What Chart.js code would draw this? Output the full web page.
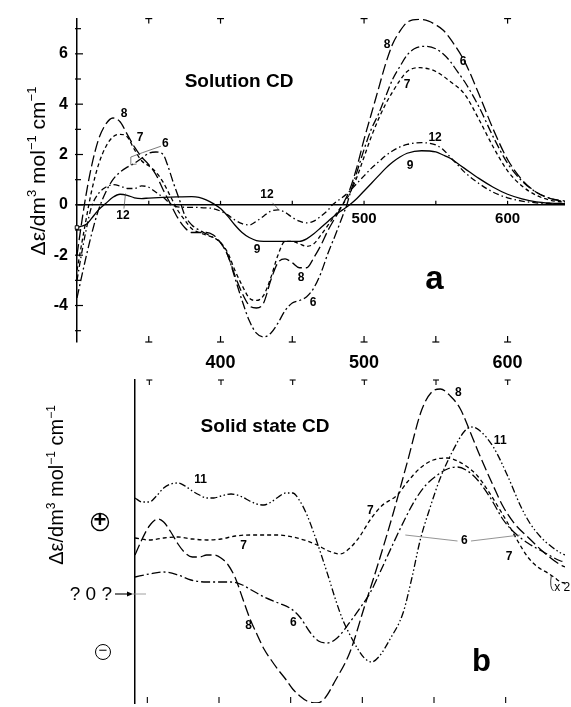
<!DOCTYPE html>
<html><head><meta charset="utf-8">
<script src="https://cdn.jsdelivr.net/npm/chart.js@4.4.1/dist/chart.umd.min.js"></script>
<style>
html,body{margin:0;padding:0;background:#fff;}
#wrap{position:relative;width:571px;height:707px;overflow:hidden;}
canvas{position:absolute;left:0;top:0;}
</style>
</head><body>
<div id="wrap"><canvas id="top" width="571" height="707"></canvas><canvas id="bot" width="571" height="707"></canvas></div>
<script>
// ---------------- DATA ----------------
// Panel a: solution CD (nm, Δε / dm3 mol-1 cm-1)
const yTicksA = [-5,-4,-3,-2,-1,0,1,2,3,4,5,6,7];
const yLabelsA = [-4,-2,0,2,4,6];
const xTicks = [350,400,450,500,550,600];
const xLabels = [400,500,600];
const topTicksA = [350,400,500,600];
const zeroLineLabels = [500,600];

const a8_nm = [300,303,306,310,315,320,325,330,335,340,345,350,355,360,365,370,375,380,390,395,400,405,410,415,420,425,430,435,440,445,450,455,460,465,470,475,480,485,490,495,500,505,510,515,520,525,530,538,545,550,555,560,570,580,590,600,610,620,630,640];
const a8_de = [-2.0,-0.8,0.3,1.5,2.6,3.2,3.45,3.3,2.8,2.3,1.9,1.6,1.2,0.6,0.05,-0.5,-0.9,-1.1,-1.1,-1.2,-1.5,-2.0,-2.8,-3.5,-4.0,-4.1,-3.9,-3.0,-2.3,-2.15,-2.3,-2.5,-2.5,-2.1,-1.6,-1.0,-0.5,0,0.6,1.5,2.6,3.6,4.6,5.6,6.4,6.9,7.25,7.37,7.3,7.15,6.95,6.6,5.7,4.4,3.0,1.8,1.0,0.5,0.25,0.15];

const a7_nm = [300,305,310,315,320,325,330,335,340,345,350,355,360,365,370,375,380,385,390,395,400,405,410,415,420,425,430,435,440,445,450,455,460,465,470,475,480,485,490,495,500,505,510,515,520,525,530,539,545,550,560,570,580,590,600,610,620,630,640];
const a7_de = [-2.6,-1.0,0.5,1.6,2.3,2.7,2.8,2.7,2.2,1.75,1.55,1.3,0.9,0.35,-0.2,-0.6,-0.95,-1.1,-1.2,-1.3,-1.5,-1.9,-2.6,-3.2,-3.7,-3.8,-3.6,-2.9,-2.0,-1.45,-1.45,-1.55,-1.65,-1.55,-1.2,-0.8,-0.4,0,0.45,1.1,1.9,2.7,3.4,4.0,4.5,4.95,5.3,5.45,5.4,5.3,4.9,4.4,3.4,2.3,1.35,0.75,0.38,0.18,0.1];

const a6_nm = [300,305,310,315,320,325,330,335,340,345,350,355,360,363,367,372,375,380,385,390,395,400,405,410,415,420,425,430,435,440,445,450,455,460,465,470,475,480,485,488,490,495,500,505,510,515,520,525,530,535,543,550,555,560,565,570,580,590,600,610,620,630,640];
const a6_de = [-3.7,-2.4,-1.2,-0.2,0.5,1.0,1.3,1.5,1.65,1.85,2.05,2.1,2.0,1.6,0.9,0.1,-0.4,-0.8,-1.0,-1.15,-1.3,-1.5,-2.0,-2.9,-3.8,-4.6,-5.1,-5.25,-5.1,-4.7,-4.2,-3.9,-3.8,-3.65,-3.3,-2.7,-1.9,-1.2,-0.45,0,0.4,1.3,2.2,3.0,3.6,4.3,5.0,5.5,5.95,6.2,6.3,6.2,6.0,5.7,5.3,4.9,3.9,2.7,1.65,0.95,0.5,0.25,0.12];

const a9_nm = [300,303,307,310,315,320,325,330,335,340,345,350,360,370,380,385,390,395,400,405,410,415,420,425,430,440,450,455,460,465,470,475,480,485,490,495,500,505,510,515,520,525,530,540,550,555,560,565,570,580,590,600,610,620,630,640];
const a9_de = [-0.9,-0.85,-0.75,-0.55,-0.2,0.05,0.3,0.42,0.38,0.28,0.25,0.27,0.3,0.32,0.33,0.3,0.2,0.05,-0.15,-0.45,-0.8,-1.1,-1.3,-1.42,-1.45,-1.45,-1.45,-1.45,-1.35,-1.15,-0.9,-0.65,-0.4,-0.2,0,0.25,0.55,0.85,1.15,1.45,1.7,1.9,2.05,2.15,2.1,1.98,1.85,1.65,1.45,1.05,0.7,0.42,0.24,0.12,0.07,0.05];

const a12_nm = [300,303,306,310,315,320,325,330,335,340,345,350,355,360,365,370,380,390,395,400,405,410,415,420,425,430,435,440,445,450,455,460,465,470,475,478,485,490,495,500,505,510,515,520,525,530,540,545,550,555,560,565,570,580,590,600,610,620,630,640];
const a12_de = [-3.0,-2.0,-1.1,-0.1,0.45,0.7,0.8,0.75,0.65,0.65,0.75,0.7,0.5,0.3,0.05,-0.08,-0.1,-0.12,-0.15,-0.25,-0.4,-0.6,-0.75,-0.8,-0.65,-0.45,-0.25,-0.2,-0.3,-0.5,-0.65,-0.72,-0.65,-0.45,-0.2,0,0.3,0.55,0.85,1.15,1.45,1.7,1.95,2.15,2.3,2.4,2.47,2.45,2.38,2.2,1.9,1.6,1.3,0.85,0.5,0.28,0.15,0.08,0.05,0.04];

// Panel b: solid state CD (arbitrary units, zero marked "? 0 ?")
const bTicks = [350,400,450,500,550,600];

const b11_nm = [340,345,350,355,360,365,370,375,380,385,390,395,400,407,415,420,425,430,435,440,445,450,455,460,465,470,475,480,485,490,495,500,505,510,518,527,533,539,546,553,562,570,575,580,590,600,609,615,623,630,637,640];
const b11_v = [9.6,9.2,9.2,9.8,10.6,11.0,11.1,10.8,10.3,9.9,9.6,9.6,9.8,10.0,9.7,9.3,9.0,8.9,9.2,9.7,10.1,10.1,9.3,7.9,6.0,3.9,1.7,-0.6,-2.6,-4.1,-5.4,-6.4,-6.8,-6.3,-4.5,-1.9,1.5,5.4,8.7,11.6,14.4,16.3,16.7,16.4,14.7,11.8,8.8,7.2,5.7,4.8,4.1,3.9];

const b8_nm = [340,345,350,356,360,365,370,375,380,385,390,395,400,405,410,415,420,425,430,435,440,445,450,455,460,467,472,480,490,500,510,520,530,540,547,553,560,567,575,581,590,597,605,614,625,637,640];
const b8_v = [3.9,5.5,6.8,7.5,7.2,6.2,5.0,4.1,3.7,3.7,3.9,3.9,3.6,2.9,1.6,-0.4,-2.4,-4.0,-5.5,-6.6,-7.6,-8.5,-9.5,-10.2,-10.7,-10.9,-10.5,-8.6,-5.8,-1.3,3.2,8.0,13.2,18.4,20.2,20.5,19.8,18.5,15.8,13.7,10.8,8.7,7.0,5.7,4.2,2.9,2.7];

const b7_nm = [340,350,360,370,380,390,400,410,420,430,440,450,460,467,475,483,490,497,504,512,523,530,539,548,558,565,572,579,586,593,600,607,614,621,628,633,637,640];
const b7_v = [5.6,5.4,5.6,5.7,5.5,5.4,5.5,5.8,5.9,5.9,5.9,5.7,5.3,4.9,4.3,4.0,4.6,5.8,7.4,8.8,9.9,11.2,12.6,13.4,13.6,13.3,12.7,11.8,10.4,8.8,7.1,5.3,3.7,2.7,2.1,1.6,1.2,1.1];

const b6_nm = [340,350,360,370,379,390,400,407,415,420,425,430,440,448,455,462,468,474,481,490,497,504,512,520,528,535,543,551,558,565,572,579,588,597,605,614,625,637,640];
const b6_v = [1.7,2.0,2.2,1.9,1.4,1.2,1.2,1.2,0.9,0.5,0.1,-0.3,-0.9,-1.4,-2.3,-3.8,-4.7,-4.9,-4.4,-2.8,-1.4,0.1,2.5,5.0,7.4,9.3,10.9,11.9,12.5,12.7,12.3,11.4,9.6,7.4,6.1,5.1,4.2,3.3,3.2];

// line styles per compound
const DASH = {
  '6': [9,3,2,3],
  '7': [4,3],
  '8': [11,4],
  '9': [],
  '11': [7,2.5,1.5,2.5,1.5,2.5],
  '12': [6,3,1.5,3]
};

// ---------------- HELPERS ----------------
const F = '"Liberation Sans", Arial, Helvetica, sans-serif';
function pts(nm, v){ return nm.map((x,i)=>({x:x, y:v[i]})); }
function ds(name, nm, v, extra){
  return Object.assign({label:name, data:pts(nm,v), borderColor:'#000', backgroundColor:'#000',
    borderWidth:1.3, borderDash:DASH[name], pointRadius:0, fill:false,
    cubicInterpolationMode:'monotone'}, extra||{});
}
function pl(ctx, p){ ctx.beginPath(); ctx.moveTo(p[0][0],p[0][1]); for(let i=1;i<p.length;i++) ctx.lineTo(p[i][0],p[i][1]); ctx.stroke(); }
function tx(ctx, s, x, y, size, weight, align, base){
  ctx.font = (weight||'normal')+' '+size+'px '+F;
  ctx.textAlign = align||'center'; ctx.textBaseline = base||'middle';
  ctx.fillStyle = '#000'; ctx.fillText(s, x, y);
}
function yTitle(ctx, bx, cy, size){
  const parts = [['Δε/dm',0],['3',1],[' mol',0],['−1',1],[' cm',0],['−1',1]];
  const big = size+'px '+F, small = Math.round(size*0.62)+'px '+F;
  let total = 0;
  parts.forEach(p=>{ ctx.font = p[1]?small:big; p.w = ctx.measureText(p[0]).width; total += p.w; });
  ctx.save(); ctx.translate(bx, cy); ctx.rotate(-Math.PI/2);
  ctx.textAlign='left'; ctx.textBaseline='alphabetic'; ctx.fillStyle='#000';
  let x = -total/2;
  parts.forEach(p=>{ ctx.font = p[1]?small:big; ctx.fillText(p[0], x, p[1]?-size*0.42:0); x += p.w; });
  ctx.restore();
}

// ---------------- PANEL a ----------------
const labelsA = [
  {t:'8', x:332.8, y:3.62}, {t:'7', x:343.9, y:2.68}, {t:'6', x:361.5, y:2.41},
  {t:'12', x:332, y:-0.42}, {t:'12', x:432.4, y:0.42}, {t:'9', x:425.4, y:-1.8},
  {t:'8', x:456.1, y:-2.9}, {t:'6', x:464.5, y:-3.88},
  {t:'8', x:516, y:6.38}, {t:'6', x:569, y:5.7}, {t:'7', x:530, y:4.77},
  {t:'12', x:549.5, y:2.68}, {t:'9', x:532, y:1.57}
];
const leadersA = [
  [[358.5,2.33],[345.5,2.07],[337.5,1.9],[337.5,1.6],[341.5,1.62]],
  [[332.7,-0.15],[333.8,0.45]],
  [[436.2,0.08],[441,-0.22]]
];
const decorA = {
  id:'decorA',
  afterDraw(chart){
    const ctx = chart.ctx, a = chart.chartArea, xs = chart.scales.x, ys = chart.scales.y;
    const X = v=>xs.getPixelForValue(v), Y = v=>ys.getPixelForValue(v);
    ctx.save(); ctx.strokeStyle='#000'; ctx.lineWidth=1.2; ctx.setLineDash([]);
    yTicksA.forEach(v=>{ const y=Y(v); const major=yLabelsA.includes(v); pl(ctx,[[a.left-2,y],[a.left+(major?6:4),y]]); });
    topTicksA.forEach(v=>{ const x=X(v); pl(ctx,[[x-3.5,a.top],[x+3.5,a.top]]); pl(ctx,[[x,a.top],[x,a.top+5]]); });
    xTicks.forEach(v=>{ const x=X(v); pl(ctx,[[x-3.5,a.bottom],[x+3.5,a.bottom]]); pl(ctx,[[x,a.bottom],[x,a.bottom-6]]); });
    xTicks.forEach(v=>{ const x=X(v); pl(ctx,[[x,Y(0)],[x,Y(0)-4]]); });
    zeroLineLabels.forEach(v=>tx(ctx, String(v), X(v), Y(0)+14, 15, 'bold'));
    ctx.lineWidth=0.7; ctx.strokeStyle='#444';
    leadersA.forEach(L=>pl(ctx, L.map(p=>[X(p[0]),Y(p[1])])));
    labelsA.forEach(l=>tx(ctx, l.t, X(l.x), Y(l.y), 12, 'bold'));
    tx(ctx, 'Solution CD', 239, 82, 19, 'bold');
    tx(ctx, 'a', 434.5, 289, 33, 'bold', 'center', 'alphabetic');
    yTitle(ctx, 45, 171, 21);
    ctx.restore();
  }
};

new Chart(document.getElementById('top'), {
  type:'line',
  data:{ datasets:[
    ds('8', a8_nm, a8_de),
    ds('7', a7_nm, a7_de),
    ds('6', a6_nm, a6_de),
    ds('9', a9_nm, a9_de, {pointRadius:c=>c.dataIndex===0?2.5:0, pointStyle:'rect', pointBackgroundColor:'#fff', pointBorderColor:'#000', pointBorderWidth:1, clip:5}),
    ds('12', a12_nm, a12_de)
  ]},
  options:{
    responsive:false, animation:false, events:[],
    layout:{ padding:{left:0, right:6, top:15, bottom:320} },
    plugins:{ legend:{display:false}, tooltip:{enabled:false} },
    scales:{
      x:{ type:'linear', min:300, max:640, position:'bottom',
          afterBuildTicks:s=>{ s.ticks = xTicks.map(v=>({value:v})); },
          afterFit:s=>{ s.height = 45; },
          grid:{display:false}, border:{display:false},
          ticks:{ autoSkip:false, maxRotation:0, padding:2, color:'#000',
                  font:{family:F, size:18, weight:'bold'},
                  callback:v=>xLabels.includes(v)?String(v):'' } },
      y:{ type:'linear', min:-5.45, max:7.4,
          afterBuildTicks:s=>{ s.ticks = yTicksA.map(v=>({value:v})); },
          afterFit:s=>{ s.width = 77; },
          grid:{ drawTicks:false, lineWidth:1.5, color:c=>(c.tick && c.tick.value===0)?'#000':'rgba(0,0,0,0)' },
          border:{ display:true, color:'#000', width:1.5 },
          ticks:{ autoSkip:false, padding:9, color:'#000', font:{family:F, size:16, weight:'bold'},
                  callback:v=>yLabelsA.includes(v)?String(v):'' } }
    }
  },
  plugins:[decorA]
});

// ---------------- PANEL b ----------------
const labelsB = [
  {t:'11', x:385.7, y:11.4}, {t:'7', x:415.7, y:4.8}, {t:'8', x:419.2, y:-3.2}, {t:'6', x:450.5, y:-2.9},
  {t:'8', x:565.5, y:20.1}, {t:'11', x:594.8, y:15.3}, {t:'7', x:504.2, y:8.3},
  {t:'6', x:569.7, y:5.3}, {t:'7', x:601, y:3.7}
];
const leadersB = [
  [[528.6,5.9],[565.0,5.3]],
  [[574.4,5.3],[608.7,5.9]]
];
const decorB = {
  id:'decorB',
  afterDraw(chart){
    const ctx = chart.ctx, a = chart.chartArea, xs = chart.scales.x, ys = chart.scales.y;
    const X = v=>xs.getPixelForValue(v), Y = v=>ys.getPixelForValue(v);
    ctx.save(); ctx.strokeStyle='#000'; ctx.lineWidth=1.1; ctx.setLineDash([]);
    bTicks.forEach(v=>{ const x=X(v); pl(ctx,[[x-3,a.top],[x+3,a.top]]); pl(ctx,[[x,a.top],[x,a.top+5]]); });
    bTicks.forEach(v=>{ const x=X(v)-2; pl(ctx,[[x,a.bottom],[x,a.bottom-6]]); });
    // zero marker
    const y0 = Y(0);
    tx(ctx, '? 0 ?', 112, y0+1, 19, 'normal', 'right');
    pl(ctx, [[115,y0],[131,y0]]);
    ctx.beginPath(); ctx.moveTo(133,y0); ctx.lineTo(127,y0-2.5); ctx.lineTo(127,y0+2.5); ctx.closePath(); ctx.fillStyle='#000'; ctx.fill();
    ctx.strokeStyle='#888'; ctx.lineWidth=0.8; pl(ctx, [[133,y0],[146,y0]]);
    // plus / minus signs
    ctx.strokeStyle='#000'; ctx.lineWidth=1.4;
    ctx.beginPath(); ctx.arc(100,522,8.5,0,2*Math.PI); ctx.stroke();
    tx(ctx, '+', 100, 521, 22, 'bold');
    ctx.lineWidth=1.0;
    ctx.beginPath(); ctx.arc(103,652,7.5,0,2*Math.PI); ctx.stroke();
    tx(ctx, '−', 103, 651, 15, 'normal');
    // leaders
    ctx.strokeStyle='#666'; ctx.lineWidth=0.7;
    leadersB.forEach(L=>pl(ctx, L.map(p=>[X(p[0]),Y(p[1])])));
    labelsB.forEach(l=>tx(ctx, l.t, X(l.x), Y(l.y), 12, 'bold'));
    // x 2 marker
    ctx.strokeStyle='#000'; ctx.lineWidth=0.8;
    ctx.beginPath(); ctx.moveTo(X(630.5), Y(1.9)); ctx.quadraticCurveTo(X(629.0), Y(0.6), X(632.0), Y(0.3)); ctx.stroke();
    tx(ctx, 'x 2', X(632.5), Y(0.6), 12, 'normal', 'left');
    tx(ctx, 'Solid state CD', 265, 427, 19, 'bold');
    tx(ctx, 'b', 481.5, 671, 31, 'bold', 'center', 'alphabetic');
    yTitle(ctx, 63, 485, 20);
    ctx.restore();
  }
};

new Chart(document.getElementById('bot'), {
  type:'line',
  data:{ datasets:[
    ds('11', b11_nm, b11_v),
    ds('8', b8_nm, b8_v),
    ds('7', b7_nm, b7_v),
    ds('6', b6_nm, b6_v)
  ]},
  options:{
    responsive:false, animation:false, events:[],
    layout:{ padding:{left:0, right:6, top:380, bottom:4} },
    plugins:{ legend:{display:false}, tooltip:{enabled:false} },
    scales:{
      x:{ type:'linear', min:340, max:640, display:false },
      y:{ type:'linear', min:-10.9, max:21.4,
          afterFit:s=>{ s.width = 135; },
          grid:{display:false},
          border:{ display:true, color:'#000', width:1.5 },
          ticks:{ display:false } }
    }
  },
  plugins:[decorB]
});
</script>
</body></html>
